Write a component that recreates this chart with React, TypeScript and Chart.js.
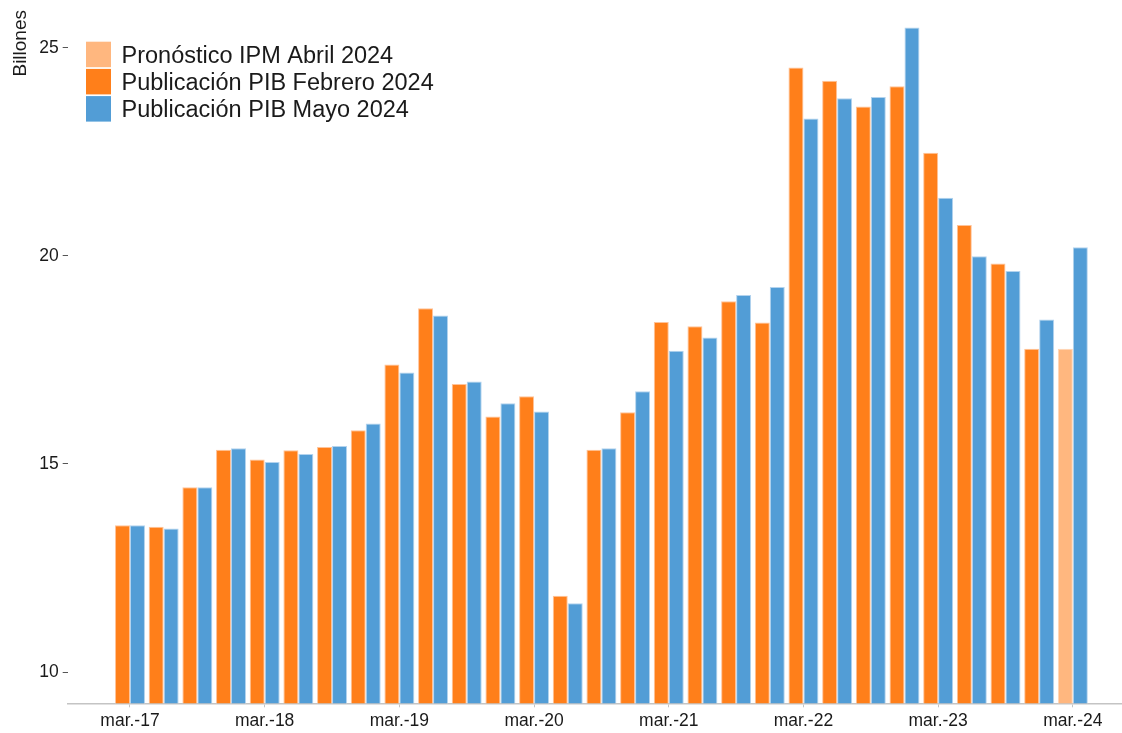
import React, { useEffect, useRef } from "react";
import { Chart, registerables } from "chart.js";

Chart.register(...registerables);

const quarters = [
  "mar.-17", "jun.-17", "sep.-17", "dic.-17",
  "mar.-18", "jun.-18", "sep.-18", "dic.-18",
  "mar.-19", "jun.-19", "sep.-19", "dic.-19",
  "mar.-20", "jun.-20", "sep.-20", "dic.-20",
  "mar.-21", "jun.-21", "sep.-21", "dic.-21",
  "mar.-22", "jun.-22", "sep.-22", "dic.-22",
  "mar.-23", "jun.-23", "sep.-23", "dic.-23",
  "mar.-24",
];

const tickLabels = ["mar.-17", "mar.-18", "mar.-19", "mar.-20", "mar.-21", "mar.-22", "mar.-23", "mar.-24"];

const yTicks = [10, 15, 20, 25];

// Publicación PIB Febrero 2024 (mar.-17 … dic.-23)
const febrero = [
  13.53, 13.49, 14.44, 15.34,
  15.11, 15.33, 15.41, 15.81,
  17.39, 18.74, 16.92, 16.14,
  16.63, 11.83, 15.34, 16.24,
  18.41, 18.31, 18.91, 18.40,
  24.53, 24.21, 23.59, 24.08,
  22.48, 20.74, 19.82, 17.77,
];

// Publicación PIB Mayo 2024 (mar.-17 … mar.-24)
const mayo = [
  13.53, 13.45, 14.44, 15.38,
  15.05, 15.24, 15.43, 15.97,
  17.20, 18.57, 16.98, 16.46,
  16.26, 11.65, 15.38, 16.75,
  17.72, 18.04, 19.06, 19.25,
  23.30, 23.79, 23.82, 25.49,
  21.40, 19.99, 19.64, 18.47,
  20.21,
];

// Pronóstico IPM Abril 2024
const pronosticoQuarters = ["mar.-24"];
const pronostico = [17.77];

const FONT = '"Liberation Sans", Arial, Helvetica, sans-serif';
const TEXT = "#1a1a1a";

const insideLegend = {
  id: "insideLegend",
  afterDraw(chart: any) {
    const ctx = chart.ctx;
    ctx.save();
    ctx.font = `23.5px ${FONT}`;
    ctx.textBaseline = "alphabetic";
    ctx.textAlign = "left";
    chart.data.datasets.forEach((ds: any, i: number) => {
      const top = 41.7 + i * 27.2;
      ctx.fillStyle = ds.backgroundColor;
      ctx.fillRect(86, top, 25, 25.5);
      ctx.fillStyle = TEXT;
      ctx.fillText(ds.label, 121.5, top + 21);
    });
    ctx.restore();
  },
};

export default function App() {
  const ref = useRef<HTMLCanvasElement | null>(null);

  useEffect(() => {
    if (!ref.current) return;
    Chart.defaults.font.family = FONT;
    const chart = new Chart(ref.current, {
      type: "bar",
      data: {
        datasets: [
          {
            label: "Pronóstico IPM Abril 2024",
            data: pronostico.map((v, i) => ({ x: quarters.indexOf(pronosticoQuarters[i]), y: v })),
            backgroundColor: "#ffb77f",
            borderColor: "#ffd6b6",
            borderWidth: 1,
          },
          {
            label: "Publicación PIB Febrero 2024",
            data: febrero.map((v, i) => ({ x: i, y: v })),
            backgroundColor: "#ff7f1a",
            borderColor: "#ffc399",
            borderWidth: 1,
          },
          {
            label: "Publicación PIB Mayo 2024",
            data: mayo.map((v, i) => ({ x: i, y: v })),
            backgroundColor: "#529dd6",
            borderColor: "#b3d3ee",
            borderWidth: 1,
          },
        ],
      },
      options: {
        animation: false,
        responsive: false,
        devicePixelRatio: 1,
        skipNull: true,
        categoryPercentage: 0.89,
        barPercentage: 1,
        layout: { padding: { top: 10, right: 0, left: 0, bottom: 0 } },
        plugins: {
          legend: { display: false },
          tooltip: { enabled: false },
        },
        scales: {
          x: {
            type: "linear",
            min: -1.85,
            max: 29.46,
            offset: false,
            afterBuildTicks: (scale: any) => {
              scale.ticks = tickLabels.map((l) => ({ value: quarters.indexOf(l) }));
            },
            afterFit: (scale: any) => {
              scale.height = 29.7;
              scale.paddingLeft = 0;
              scale.paddingRight = 0;
            },
            ticks: {
              autoSkip: false,
              maxRotation: 0,
              padding: 3,
              color: TEXT,
              font: { size: 17.5 },
              callback: (v: any) => quarters[v as number] ?? "",
            },
            grid: {
              display: true,
              offset: false,
              drawOnChartArea: false,
              drawTicks: true,
              tickLength: 4,
              color: "#c4c4c4",
            },
            border: { display: true, color: "#c4c4c4", width: 1.5 },
          },
          y: {
            type: "linear",
            min: 9.248,
            max: 25.91,
            afterBuildTicks: (scale: any) => {
              scale.ticks = yTicks.map((v) => ({ value: v }));
            },
            afterFit: (scale: any) => {
              scale.width = 67.7;
              scale.paddingTop = 0;
              scale.paddingBottom = 0;
            },
            ticks: {
              padding: 4,
              color: TEXT,
              font: { size: 17.5 },
              includeBounds: false,
            },
            grid: {
              display: true,
              drawOnChartArea: false,
              drawTicks: true,
              tickLength: 5,
              color: "#555555",
            },
            border: { display: false },
            title: {
              display: true,
              text: "Billones",
              align: "end",
              color: TEXT,
              font: { size: 19 },
              padding: { top: 9, bottom: 0 },
            },
          },
        },
      },
      plugins: [insideLegend],
    } as any);
    return () => chart.destroy();
  }, []);

  return (
    <div style={{ position: "absolute", left: 0, top: 0, width: 1122, height: 733, background: "#fff" }}>
      <canvas ref={ref} width={1122} height={733} style={{ display: "block" }} />
    </div>
  );
}
